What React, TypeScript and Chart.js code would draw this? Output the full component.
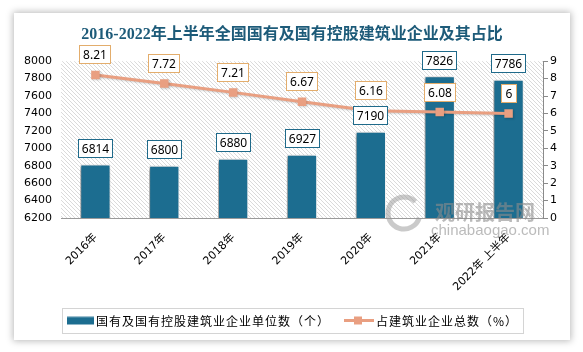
import React, { useEffect, useRef } from "react";
import { Chart, registerables } from "chart.js";

Chart.register(...registerables);

const categories = ["2016年", "2017年", "2018年", "2019年", "2020年", "2021年", "2022年 上半年"];
const enterpriseCounts = [6814, 6800, 6880, 6927, 7190, 7826, 7786];
const sharePercent = [8.21, 7.72, 7.21, 6.67, 6.16, 6.08, 6];
const leftAxis = [6200, 8000, 200];
const rightAxis = [0, 9, 1];

const TITLE = "2016-2022年上半年全国国有及国有控股建筑业企业及其占比";
const BAR_LABEL = "国有及国有控股建筑业企业单位数（个）";
const LINE_LABEL = "占建筑业企业总数（%）";

const BAR_COLOR = "#1c6d90";
const LINE_COLOR = "#e99f81";
const TICK_FONT = { family: "'DejaVu Sans', 'Noto Sans CJK SC', sans-serif", size: 11 };

function makeHatch(): CanvasPattern | string {
  const c = document.createElement("canvas");
  c.width = 4;
  c.height = 4;
  const g = c.getContext("2d");
  if (!g) return "#fff";
  g.fillStyle = "#ffffff";
  g.fillRect(0, 0, 4, 4);
  g.strokeStyle = "#dadada";
  g.lineWidth = 1;
  g.beginPath();
  g.moveTo(-1, -1);
  g.lineTo(5, 5);
  g.moveTo(3, -1);
  g.lineTo(5, 1);
  g.moveTo(-1, 3);
  g.lineTo(1, 5);
  g.stroke();
  const p = g.createPattern(c, "repeat");
  return p || "#fff";
}

function drawBox(ctx: CanvasRenderingContext2D, text: string, cx: number, cy: number, border: string) {
  ctx.save();
  ctx.font = "12px 'Noto Sans', 'DejaVu Sans', sans-serif";
  const w = Math.max(16, Math.round(ctx.measureText(text).width + 8));
  const h = 19;
  const x = Math.round(cx - w / 2);
  const y = Math.round(cy - h / 2);
  ctx.fillStyle = "#ffffff";
  ctx.fillRect(x, y, w, h);
  ctx.strokeStyle = border;
  ctx.lineWidth = 1;
  ctx.strokeRect(x + 0.5, y + 0.5, w - 1, h - 1);
  ctx.fillStyle = "#000";
  ctx.textAlign = "center";
  ctx.textBaseline = "middle";
  ctx.fillText(text, x + w / 2, y + h / 2 + 1);
  ctx.restore();
}

const backgroundPlugin = {
  id: "hatchBg",
  beforeDatasetsDraw(chart: any) {
    const { ctx, chartArea } = chart;
    ctx.save();
    ctx.fillStyle = makeHatch();
    ctx.fillRect(chartArea.left, chartArea.top, chartArea.right - chartArea.left, chartArea.bottom - chartArea.top);
    ctx.restore();
  },
};

const shadowPlugin = {
  id: "shadows",
  beforeDatasetDraw(chart: any, args: any) {
    const ctx = chart.ctx;
    ctx.save();
    if (args.index === 0) {
      ctx.shadowColor = "rgba(0,0,0,0.45)";
      ctx.shadowBlur = 4;
      ctx.shadowOffsetX = -2;
      ctx.shadowOffsetY = 1;
    } else {
      ctx.shadowColor = "rgba(0,0,0,0.18)";
      ctx.shadowBlur = 2;
      ctx.shadowOffsetX = 1;
      ctx.shadowOffsetY = 1;
    }
  },
  afterDatasetDraw(chart: any) {
    chart.ctx.restore();
  },
};

const overlayPlugin = {
  id: "overlay",
  afterDatasetsDraw(chart: any) {
    const ctx: CanvasRenderingContext2D = chart.ctx;
    // watermark
    ctx.save();
    ctx.strokeStyle = "rgba(150,150,150,0.5)";
    ctx.lineWidth = 5;
    ctx.beginPath();
    ctx.arc(390, 200, 16, 0.3, Math.PI * 1.75);
    ctx.stroke();
    ctx.fillStyle = "rgba(140,140,140,0.6)";
    ctx.font = "bold 20px 'Noto Sans CJK SC', sans-serif";
    ctx.textAlign = "left";
    ctx.textBaseline = "middle";
    ctx.fillText("观研报告网", 421, 199);
    ctx.fillStyle = "rgba(150,150,150,0.65)";
    ctx.font = "15px 'Liberation Sans', sans-serif";
    ctx.fillText("chinabaogao.com", 417, 218);
    ctx.restore();

    const barMeta = chart.getDatasetMeta(0);
    barMeta.data.forEach((el: any, i: number) => {
      drawBox(ctx, String(chart.data.datasets[0].data[i]), el.x, el.y - 16, "#1f6a8a");
    });
    const lineMeta = chart.getDatasetMeta(1);
    lineMeta.data.forEach((el: any, i: number) => {
      drawBox(ctx, String(chart.data.datasets[1].data[i]), el.x, el.y - 20, "#e3ad6c");
    });
  },
  afterDraw(chart: any) {
    const ctx: CanvasRenderingContext2D = chart.ctx;
    const ds = chart.data.datasets;
    ctx.save();
    // legend frame
    ctx.strokeStyle = "#d4d4d4";
    ctx.lineWidth = 1;
    ctx.strokeRect(48.5, 295.5, 461, 25);
    const cy = 307.5;
    // bar swatch
    ctx.fillStyle = ds[0].backgroundColor;
    ctx.fillRect(53, cy - 4, 27, 8);
    ctx.fillStyle = "rgba(255,255,255,0.35)";
    ctx.fillRect(53, cy - 4, 27, 1);
    ctx.font = "12px 'Noto Sans CJK SC', sans-serif";
    (ctx as any).letterSpacing = "1px";
    ctx.fillStyle = "#000";
    ctx.textAlign = "left";
    ctx.textBaseline = "middle";
    ctx.fillText(ds[0].label, 82, cy + 1);
    // line swatch
    ctx.strokeStyle = ds[1].borderColor;
    ctx.lineWidth = 3;
    ctx.beginPath();
    ctx.moveTo(330, cy);
    ctx.lineTo(360, cy);
    ctx.stroke();
    ctx.fillStyle = ds[1].borderColor;
    ctx.fillRect(340, cy - 4, 8, 8);
    ctx.fillStyle = "#000";
    ctx.fillText(ds[1].label, 362, cy + 1);
    ctx.restore();
  },
};

export default function App() {
  const ref = useRef<HTMLCanvasElement | null>(null);

  useEffect(() => {
    if (!ref.current) return;
    const chart = new Chart(ref.current, {
      data: {
        labels: categories,
        datasets: [
          {
            type: "bar",
            label: BAR_LABEL,
            data: enterpriseCounts,
            backgroundColor: BAR_COLOR,
            borderColor: "#ffffff",
            borderWidth: 1,
            barPercentage: 0.44,
            categoryPercentage: 1,
            yAxisID: "y",
            order: 2,
          } as any,
          {
            type: "line",
            label: LINE_LABEL,
            data: sharePercent,
            borderColor: LINE_COLOR,
            backgroundColor: LINE_COLOR,
            borderWidth: 3,
            pointStyle: "rect",
            pointRadius: 6,
            pointBorderWidth: 0,
            pointBackgroundColor: LINE_COLOR,
            tension: 0,
            yAxisID: "y1",
            order: 1,
          } as any,
        ],
      },
      options: {
        responsive: false,
        maintainAspectRatio: false,
        animation: false,
        devicePixelRatio: 1,
        layout: { padding: 0 },
        plugins: {
          legend: { display: false },
          tooltip: { enabled: false },
          title: {
            display: true,
            text: TITLE,
            color: "#1d5b79",
            font: { family: "'Liberation Serif', 'Noto Sans CJK SC', serif", size: 16, weight: "bold" },
            padding: { top: 12, bottom: 17 },
          },
        },
        scales: {
          x: {
            grid: { display: false, drawTicks: false },
            border: { display: true, color: "#9a9a9a", width: 1 },
            ticks: { color: "#000", font: TICK_FONT, minRotation: 45, maxRotation: 45, padding: 13, autoSkip: false },
            afterFit(s: any) {
              s.height = 122;
            },
          },
          y: {
            position: "left",
            min: leftAxis[0],
            max: leftAxis[1],
            ticks: { stepSize: leftAxis[2], color: "#000", font: TICK_FONT, padding: 9, callback: (v: any) => String(v) },
            grid: { display: false, drawTicks: false },
            border: { display: false },
            afterFit(s: any) {
              s.width = 47;
            },
          },
          y1: {
            position: "right",
            min: rightAxis[0],
            max: rightAxis[1],
            ticks: { stepSize: rightAxis[2], color: "#000", font: TICK_FONT, padding: 2, callback: (v: any) => String(v) },
            grid: { drawOnChartArea: false, drawTicks: true, tickLength: 5, color: "#8a8a8a" },
            border: { display: true, color: "#8a8a8a" },
            afterFit(s: any) {
              s.width = 27;
            },
          },
        },
      } as any,
      plugins: [backgroundPlugin, shadowPlugin, overlayPlugin],
    });
    return () => chart.destroy();
  }, []);

  return (
    <div style={{ position: "absolute", left: 0, top: 0, width: 583, height: 352, background: "#fff", overflow: "hidden" }}>
      <div
        style={{
          position: "absolute",
          left: 14,
          top: 13,
          width: 556,
          height: 327,
          background: "#fff",
          boxShadow: "0 0 7px 1px rgba(0,0,0,0.28)",
        }}
      >
        <canvas ref={ref} width={556} height={327} style={{ display: "block", width: 556, height: 327 }} />
      </div>
    </div>
  );
}
